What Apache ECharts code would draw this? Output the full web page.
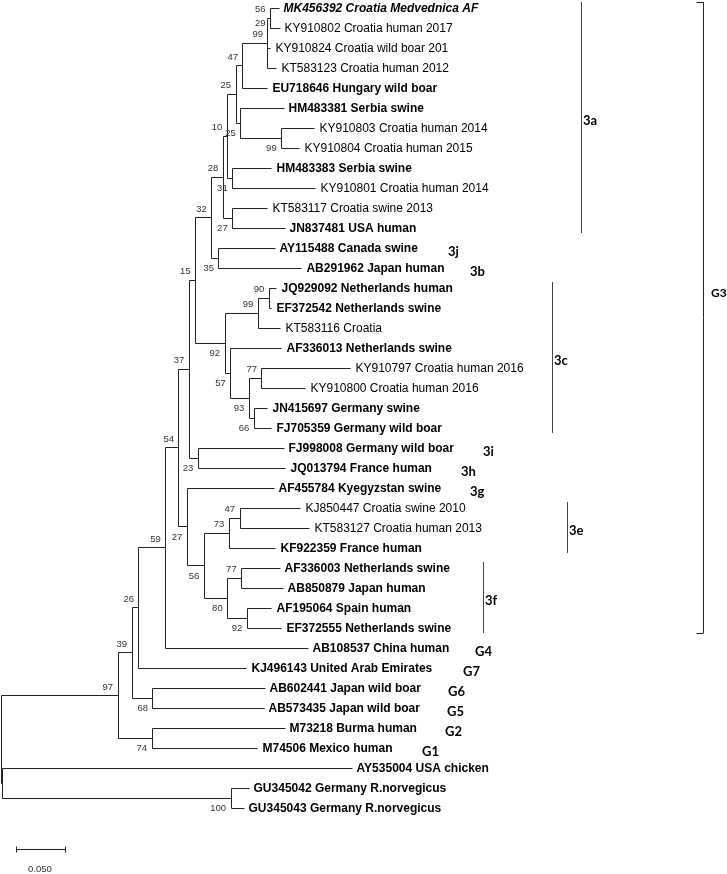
<!DOCTYPE html>
<html>
<head>
<meta charset="utf-8">
<script src="https://cdn.jsdelivr.net/npm/echarts@6/dist/echarts.min.js"></script>
<style>
  html, body { margin: 0; padding: 0; background: #fff; }
  #tree { width: 727px; height: 874px; }
</style>
</head>
<body>
<div id="tree"></div>
<script>
// leaves, top to bottom (row index = position in the list)
const leafNames = [
  "MK456392 Croatia Medvednica AF", "KY910802 Croatia human 2017", "KY910824 Croatia wild boar 201",
  "KT583123 Croatia human 2012", "EU718646 Hungary wild boar", "HM483381 Serbia swine",
  "KY910803 Croatia human 2014", "KY910804 Croatia human 2015", "HM483383 Serbia swine",
  "KY910801 Croatia human 2014", "KT583117 Croatia swine 2013", "JN837481 USA human",
  "AY115488 Canada swine", "AB291962 Japan human", "JQ929092 Netherlands human",
  "EF372542 Netherlands swine", "KT583116 Croatia", "AF336013 Netherlands swine",
  "KY910797 Croatia human 2016", "KY910800 Croatia human 2016", "JN415697 Germany swine",
  "FJ705359 Germany wild boar", "FJ998008 Germany wild boar", "JQ013794 France human",
  "AF455784 Kyegyzstan swine", "KJ850447 Croatia swine 2010", "KT583127 Croatia human 2013",
  "KF922359 France human", "AF336003 Netherlands swine", "AB850879 Japan human",
  "AF195064 Spain human", "EF372555 Netherlands swine", "AB108537 China human",
  "KJ496143 United Arab Emirates", "AB602441 Japan wild boar", "AB573435 Japan wild boar",
  "M73218 Burma human", "M74506 Mexico human", "AY535004 USA chicken",
  "GU345042 Germany R.norvegicus", "GU345043 Germany R.norvegicus"
];
// distance from root to each tip
const leafDepth = [
  0.2837, 0.2847, 0.2755, 0.2816, 0.2724, 0.2888, 0.3204, 0.3051, 0.2765, 0.3214,
  0.2724, 0.2898, 0.2796, 0.3071, 0.2816, 0.2765, 0.2857, 0.2867, 0.3571, 0.3112,
  0.2724, 0.2765, 0.2888, 0.2908, 0.2786, 0.3061, 0.3153, 0.2806, 0.2847, 0.2878,
  0.2765, 0.2867, 0.3133, 0.2510, 0.2694, 0.2684, 0.2898, 0.2622, 0.3582, 0.2531,
  0.2480
];
// n = normal, b = bold, bi = bold italic
const leafStyle = [
  "bi", "n", "n", "n", "b", "b", "n", "n", "b", "n",
  "n", "b", "b", "b", "b", "b", "n", "b", "n", "n",
  "b", "b", "b", "b", "b", "n", "n", "b", "b", "b",
  "b", "b", "b", "b", "b", "b", "b", "b", "b", "b",
  "b"
];

// internal nodes: children are leaf indices or node ids
const nodeIds = [
  "n56", "n99", "n47", "n99b", "nP", "nQ", "n31", "nR", "n27", "nS", "n35", "n32",
  "n90", "n99c", "n77", "n66", "n93", "n57", "n92", "n15", "n23", "n37",
  "n47b", "n73", "n77b", "n92b", "n80", "n56b", "n27b", "n54", "n59", "n26",
  "n68", "n39", "n74", "n97", "n100", "nOut", "root"
];
const nodeChildren = [
  [0, 1], ["n56", 2, 3], ["n99", 4], [6, 7], [5, "n99b"], ["n47", "nP"], [8, 9],
  ["nQ", "n31"], [10, 11], ["nR", "n27"], [12, 13], ["nS", "n35"],
  [14, 15], ["n90", 16], [18, 19], [20, 21], ["n77", "n66"], [17, "n93"],
  ["n99c", "n57"], ["n32", "n92"], [22, 23], ["n15", "n23"],
  [25, 26], ["n47b", 27], [28, 29], [30, 31], ["n77b", "n92b"], ["n73", "n80"],
  [24, "n56b"], ["n37", "n27b"], ["n54", 32], ["n59", 33],
  [34, 35], ["n26", "n68"], [36, 37], ["n39", "n74"], [39, 40], [38, "n100"],
  ["n97", "nOut"]
];
const nodeDepth = [
  0.2750, 0.2724, 0.2469, 0.2864, 0.2446, 0.2398, 0.2364, 0.2309, 0.2364, 0.2268,
  0.2224, 0.2150, 0.2738, 0.2626, 0.2663, 0.2585, 0.2534, 0.2344, 0.2286, 0.1985,
  0.2013, 0.1921, 0.2439, 0.2330, 0.2456, 0.2513, 0.2313, 0.2074, 0.1901, 0.1816,
  0.1681, 0.1408, 0.1551, 0.1337, 0.1541, 0.1194, 0.2347, 0.0015, 0
];
const nodeSupport = [
  "56", "99", "47", "99", "25", "25", "31", "10", "27", "28", "35", "32",
  "90", "99", "77", "66", "93", "57", "92", "15", "23", "37",
  "47", "73", "77", "92", "80", "56", "27", "54", "59", "26",
  "68", "39", "74", "97", "100", "", ""
];
// second value printed just under the top node
const extraSupport = [["n56", "29"]];

// clade bars on the right
const cladeNames = ["3a", "3c", "3e", "3f", "G3"];
const cladeFirst = [0, 14, 25, 28, 0];
const cladeLast = [11, 21, 27, 31, 31];
// single genotype tags beside one leaf
const tagNames = ["3j", "3b", "3i", "3h", "3g", "G4", "G7", "G6", "G5", "G2", "G1"];
const tagLeaf = [12, 13, 22, 23, 24, 32, 33, 34, 35, 36, 37];

const scaleBarLength = 0.05;
const scaleBarLabel = "0.050";

// ---- layout (pixels) ----
const PX = 980;           // pixels per unit of distance
const tagX = [448, 470, 483, 461, 470, 475, 463, 448, 447, 445, 422];
const cladeBarX = [581, 552, 567.5, 483, 703];
const scaleBarX = 16.7;
const scaleRow = 42.05;

const FONT = '"Liberation Sans", Arial, sans-serif';
const TAGFONT = "bold 13px Lato, sans-serif";
const pxToDepth = (p) => (p - 1) / PX;

// node positions
const idx = {};
nodeIds.forEach((id, i) => (idx[id] = i));
const nodeRow = {};
function rowOf(c) {
  if (typeof c === "number") return c;
  if (nodeRow[c] === undefined) {
    const ch = nodeChildren[idx[c]];
    nodeRow[c] = (rowOf(ch[0]) + rowOf(ch[ch.length - 1])) / 2;
  }
  return nodeRow[c];
}
const depthOf = (c) => (typeof c === "number" ? leafDepth[c] : nodeDepth[idx[c]]);
const isUpper = {};
const segments = [];
nodeIds.forEach((id, i) => {
  const ch = nodeChildren[i];
  const d = nodeDepth[i];
  segments.push([d, rowOf(ch[0]), d, rowOf(ch[ch.length - 1])]);
  ch.forEach((c, k) => {
    segments.push([d, rowOf(c), depthOf(c), rowOf(c)]);
    if (typeof c === "string") isUpper[c] = k < ch.length - 1;
  });
});

// [depth, row, text, placement] placement: 1 above, 0 below, 2 tight below
const supportData = [];
nodeIds.forEach((id, i) => {
  if (!nodeSupport[i]) return;
  supportData.push([nodeDepth[i], rowOf(id), nodeSupport[i], isUpper[id] ? 1 : 0]);
});
extraSupport.forEach(([id, s]) => supportData.push([nodeDepth[idx[id]], rowOf(id), s, 2]));
const supportDy = { 1: -8.5, 0: 10.5, 2: 5.5 };

const leafData = leafNames.map((n, i) => [leafDepth[i], i, n, leafStyle[i]]);
const tagData = tagNames.map((t, i) => [pxToDepth(tagX[i]), tagLeaf[i], t]);
const cladeData = cladeNames.map((c, i) => [pxToDepth(cladeBarX[i]), cladeFirst[i], cladeLast[i], c]);

const crisp = (v) => Math.round(v - 0.5) + 0.5;

const chart = echarts.init(document.getElementById("tree"));
chart.setOption({
  animation: false,
  grid: { left: 1, top: 8, width: 0.7 * PX, height: 860 },
  xAxis: { type: "value", min: 0, max: 0.7, show: false },
  yAxis: { type: "value", min: 0, max: 43, inverse: true, show: false },
  series: [
    {
      type: "custom",
      clip: false,
      data: segments,
      renderItem: (params, api) => {
        const a = api.coord([api.value(0), api.value(1)]);
        const b = api.coord([api.value(2), api.value(3)]);
        return {
          type: "line",
          shape: { x1: crisp(a[0]), y1: crisp(a[1]), x2: crisp(b[0]), y2: crisp(b[1]) },
          style: { stroke: "#222", lineWidth: 1 }
        };
      }
    },
    {
      type: "custom",
      clip: false,
      data: leafData,
      renderItem: (params, api) => {
        const p = api.coord([api.value(0), api.value(1)]);
        const item = leafData[params.dataIndex];
        const w = item[3] === "n" ? "" : "bold ";
        const it = item[3] === "bi" ? "italic " : "";
        return {
          type: "text",
          x: p[0] + 4.5,
          y: p[1] + 0.5,
          style: { text: item[2], font: it + w + "12px " + FONT, fill: "#000", align: "left", verticalAlign: "middle" }
        };
      }
    },
    {
      type: "custom",
      clip: false,
      data: supportData,
      renderItem: (params, api) => {
        const p = api.coord([api.value(0), api.value(1)]);
        const item = supportData[params.dataIndex];
        return {
          type: "text",
          x: p[0] - 5,
          y: p[1] + supportDy[item[3]],
          style: { text: item[2], font: "9.5px " + FONT, fill: "#333", align: "right", verticalAlign: "middle" }
        };
      }
    },
    {
      type: "custom",
      clip: false,
      data: tagData,
      renderItem: (params, api) => {
        const p = api.coord([api.value(0), api.value(1)]);
        return {
          type: "text",
          x: p[0],
          y: p[1] + 3.5,
          style: { text: tagData[params.dataIndex][2], font: TAGFONT, fill: "#000", align: "left", verticalAlign: "middle" }
        };
      }
    },
    {
      type: "custom",
      clip: false,
      data: cladeData,
      renderItem: (params, api) => {
        const item = cladeData[params.dataIndex];
        const top = api.coord([item[0], item[1] - 0.3]);
        const bot = api.coord([item[0], item[2] + 0.25]);
        const x = crisp(top[0]);
        const big = item[3] === "G3";
        const children = [
          { type: "line", shape: { x1: x, y1: top[1], x2: x, y2: bot[1] }, style: { stroke: big ? "#222" : "#444", lineWidth: 1 } }
        ];
        if (big) {
          children.push({ type: "line", shape: { x1: x - 7, y1: crisp(top[1]), x2: x, y2: crisp(top[1]) }, style: { stroke: "#222", lineWidth: 1 } });
          children.push({ type: "line", shape: { x1: x - 7, y1: crisp(bot[1]), x2: x, y2: crisp(bot[1]) }, style: { stroke: "#222", lineWidth: 1 } });
        }
        children.push({
          type: "text",
          x: x + (big ? 7.5 : 1.5),
          y: (top[1] + bot[1]) / 2 + (big ? -24 : 3),
          style: { text: item[3], font: big ? "bold 12px Lato, sans-serif" : TAGFONT, fill: "#000", align: "left", verticalAlign: "middle" }
        });
        return { type: "group", children };
      }
    },
    {
      type: "custom",
      clip: false,
      data: [[pxToDepth(scaleBarX), scaleRow, pxToDepth(scaleBarX) + scaleBarLength]],
      renderItem: (params, api) => {
        const a = api.coord([api.value(0), api.value(1)]);
        const b = api.coord([api.value(2), api.value(1)]);
        const y = crisp(a[1]);
        const x1 = crisp(a[0]);
        const x2 = crisp(b[0]);
        const s = { stroke: "#222", lineWidth: 1 };
        return {
          type: "group",
          children: [
            { type: "line", shape: { x1, y1: y, x2, y2: y }, style: s },
            { type: "line", shape: { x1, y1: y - 3, x2: x1, y2: y + 3 }, style: s },
            { type: "line", shape: { x1: x2, y1: y - 3, x2, y2: y + 3 }, style: s },
            {
              type: "text",
              x: (x1 + x2) / 2 - 1,
              y: y + 20,
              style: { text: scaleBarLabel, font: "9.5px " + FONT, fill: "#333", align: "center", verticalAlign: "middle" }
            }
          ]
        };
      }
    }
  ]
});
</script>
</body>
</html>
